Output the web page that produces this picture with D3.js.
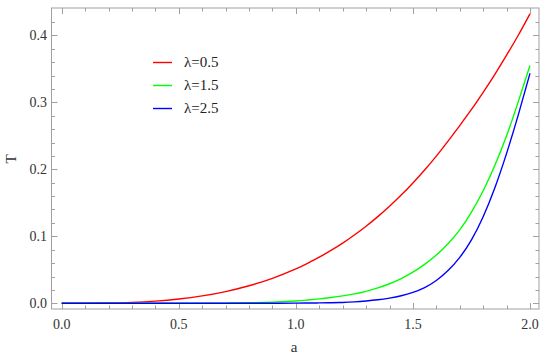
<!DOCTYPE html>
<html><head><meta charset="utf-8">
<script src="https://cdn.jsdelivr.net/npm/d3@7"></script>
<style>body{margin:0;background:#fff}svg{display:block}text{font-family:"Liberation Serif","Times New Roman",serif}</style>
</head><body>
<svg id="c" width="550" height="361"></svg>
<script>
const aValues = [0,0.1,0.2,0.3,0.4,0.5,0.6,0.7,0.8,0.9,1.0,1.05,1.1,1.15,1.2,1.25,1.3,1.35,1.4,1.45,1.5,1.55,1.6,1.65,1.7,1.75,1.8,1.85,1.9,1.95,2.0];
const tLambda05 = [0,0.00005,0.0004,0.0014,0.0033,0.0064,0.011,0.0175,0.0262,0.0372,0.0513,0.0596,0.0688,0.0789,0.0899,0.102,0.1151,0.1294,0.1449,0.1615,0.1796,0.199,0.2197,0.242,0.2653,0.2893,0.3149,0.3418,0.3704,0.4001,0.432];
const tLambda15 = [0,0,0,0,0,0,0.0001,0.0003,0.0008,0.0017,0.0034,0.0049,0.0066,0.0086,0.011,0.014,0.0179,0.0229,0.0292,0.037,0.0465,0.058,0.072,0.089,0.1095,0.136,0.168,0.206,0.25,0.301,0.355];
const tLambda25 = [0,0,0,0,0,0,0,0,0,0.0001,0.0003,0.0004,0.0006,0.0009,0.0013,0.0021,0.0034,0.0052,0.0078,0.0113,0.0163,0.0235,0.034,0.0488,0.0685,0.0948,0.1293,0.1725,0.2238,0.2813,0.3433];
const seriesNames = ["λ=0.5","λ=1.5","λ=2.5"];
const seriesColors = ["#ff0000","#00ff00","#0000ff"];
const xTicks = [0,0.5,1.0,1.5,2.0];
const yTicks = [0,0.1,0.2,0.3,0.4];

const series = [tLambda05,tLambda15,tLambda25];
const svg = d3.select("#c");
const x = d3.scaleLinear().domain([0,2]).range([61.7,530]);
const y = d3.scaleLinear().domain([0,0.4]).range([303.3,35.3]);
const fL=51.5, fR=539, fT=8, fB=309;
const frameCol="#a0a0a0";

svg.append("rect").attr("x",fL).attr("y",fT).attr("width",fR-fL).attr("height",fB-fT)
  .attr("fill","none").attr("stroke",frameCol).attr("stroke-width",1);

const xMinor = d3.range(0,2.0001,0.1);
const yMinor = d3.range(0,0.44,0.02);
const isMajorX = v => xTicks.some(t=>Math.abs(t-v)<1e-6);
const isMajorY = v => yTicks.some(t=>Math.abs(t-v)<1e-6);
const tk = svg.append("g").attr("stroke",frameCol).attr("stroke-width",1);
xMinor.forEach(v=>{
  const L = isMajorX(v)?6:3.5, px=Math.round(x(v))+0.5;
  tk.append("line").attr("x1",px).attr("x2",px).attr("y1",fB).attr("y2",fB-L);
  tk.append("line").attr("x1",px).attr("x2",px).attr("y1",fT).attr("y2",fT+L);
});
yMinor.forEach(v=>{
  const L = isMajorY(v)?6:3.5, py=Math.round(y(v))+0.5;
  tk.append("line").attr("y1",py).attr("y2",py).attr("x1",fL).attr("x2",fL+L);
  tk.append("line").attr("y1",py).attr("y2",py).attr("x1",fR).attr("x2",fR-L);
});

svg.append("g").selectAll("text").data(xTicks).join("text")
  .attr("x",d=>x(d)).attr("y",329).attr("text-anchor","middle")
  .attr("font-size",14).attr("fill","#333")
  .text(d=>d.toFixed(1));
svg.append("g").selectAll("text").data(yTicks).join("text")
  .attr("x",47).attr("y",d=>y(d)+4.5).attr("text-anchor","end")
  .attr("font-size",14).attr("fill","#333")
  .text(d=>d.toFixed(1));

svg.append("text").attr("x",294).attr("y",352).attr("text-anchor","middle")
  .attr("font-size",15).attr("fill","#333").text("a");
svg.append("text").attr("transform","translate(16,159) rotate(-90)").attr("text-anchor","middle")
  .attr("font-size",15).attr("fill","#333").text("T");

const line = d3.line().x((d,i)=>x(aValues[i])).y(d=>y(d)).curve(d3.curveNatural);
svg.append("clipPath").attr("id","cp").append("rect")
  .attr("x",fL).attr("y",fT).attr("width",fR-fL).attr("height",fB-fT);
series.forEach((s,i)=>{
  svg.append("path").attr("d",line(s)).attr("fill","none")
    .attr("stroke",seriesColors[i]).attr("stroke-width",1.4).attr("clip-path","url(#cp)");
});

const lg = svg.append("g");
seriesNames.forEach((n,i)=>{
  const yy = 62.5 + i*23;
  lg.append("line").attr("x1",153).attr("x2",172).attr("y1",yy).attr("y2",yy)
    .attr("stroke",seriesColors[i]).attr("stroke-width",1.4);
  lg.append("text").attr("x",184).attr("y",yy+4.5)
    .attr("font-size",15).attr("fill","#222").text(n);
});
</script>
</body></html>
